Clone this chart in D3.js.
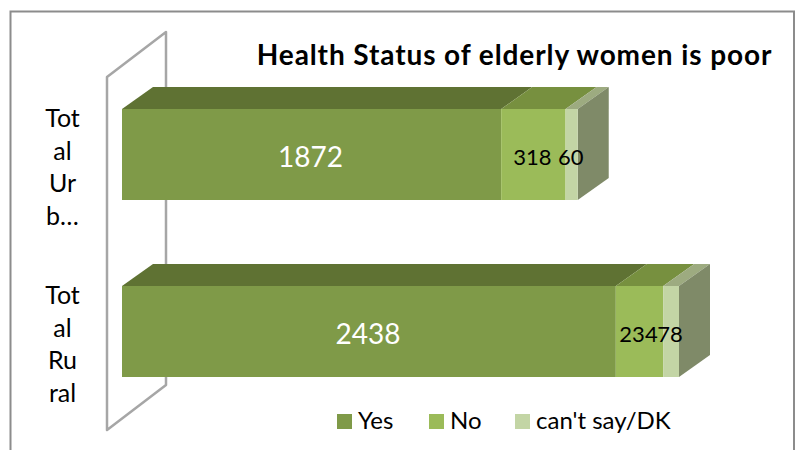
<!DOCTYPE html>
<html><head><meta charset="utf-8">
<script src="https://cdn.jsdelivr.net/npm/d3@7"></script>
<style>html,body{margin:0;padding:0;background:#fff}svg{display:block}text{font-family:Lato,"Open Sans",sans-serif}</style>
</head><body><svg id="c" width="795" height="450"></svg>
<script>
const categories = ["Total Urban", "Total Rural"];
const categoryLines = [["Tot","al","Ur","b…"],["Tot","al","Ru","ral"]];
const seriesNames = ["Yes","No","can't say/DK"];
const yesValues = [1872, 2438];
const noValues = [318, 234];
const dkValues = [60, 78];
const titleText = "Health Status of elderly women is poor";

const front = ["#7f9a48","#9bbb59","#c3d5a5"];
const top_ = ["#5f7233","#77903f","#9dab80"];
const sideColor = "#7f8a68";
const dx = 31, dy = 22;
const svg = d3.select("#c");

svg.append("path").attr("d","M10.5,450V11.5H794V450").attr("fill","none").attr("stroke","#8c8c8c").attr("stroke-width",2);

const x = d3.scaleLinear().domain([0,2750]).range([122,679]);
const y = d3.scaleBand().domain(categories).range([109,377]).paddingInner(86/177).paddingOuter(0);
const barH = y.bandwidth();

svg.append("path").attr("d","M107,430V77L166,32V385Z").attr("fill","#fff").attr("stroke","#a6a6a6").attr("stroke-width",2.5).attr("stroke-linejoin","round");

const rows = categories.map((c,i)=>({c,i,vals:[yesValues[i],noValues[i],dkValues[i]]}));
rows.forEach(r=>{
  const g = svg.append("g");
  const Y = y(r.c), H = barH;
  const stack = d3.cumsum(r.vals);
  const segs = r.vals.map((v,k)=>({v,k,a:k?stack[k-1]:0,b:stack[k]}));
  g.selectAll("path.top").data(segs).join("path").attr("class","top")
    .attr("fill",d=>top_[d.k])
    .attr("d",d=>{const a=x(d.a),b=x(d.b);return `M${a},${Y}L${a+dx},${Y-dy}H${b+dx}L${b},${Y}Z`;});
  const end = x(stack[2]);
  g.append("path").attr("fill",sideColor).attr("d",`M${end},${Y}L${end+dx},${Y-dy}V${Y+H-dy}L${end},${Y+H}Z`);
  g.selectAll("rect").data(segs).join("rect")
    .attr("x",d=>x(d.a)).attr("y",Y).attr("width",d=>x(d.b)-x(d.a)).attr("height",H)
    .attr("fill",d=>front[d.k]);
  g.selectAll("text").data(segs).join("text")
    .attr("x",d=>(x(d.a)+x(d.b))/2-1).attr("y",Y+H/2+3)
    .attr("dy","0.35em").attr("text-anchor","middle")
    .attr("font-size",d=>d.k===0?28:22)
    .attr("fill",d=>d.k===0?"#fff":"#000")
    .text(d=>d.v);
  const t = svg.append("text").attr("text-anchor","middle").attr("font-size",25).attr("fill","#000");
  const firstBaseline = Y + 18;
  t.selectAll("tspan").data(categoryLines[r.i]).join("tspan")
    .attr("x",62.5).attr("y",(d,j)=>firstBaseline+j*32.7).text(d=>d);
});

svg.append("text").attr("x",514.5).attr("y",65).attr("text-anchor","middle").attr("font-size",28).attr("letter-spacing",0.9).attr("font-weight",700).attr("fill","#000").text(titleText);

const legendX = [337,429,515];
const lg = svg.append("g");
seriesNames.forEach((s,i)=>{
  lg.append("rect").attr("x",legendX[i]).attr("y",414).attr("width",15).attr("height",15).attr("fill",front[i]);
  lg.append("text").attr("x",legendX[i]+21).attr("y",428.5).attr("font-size",24).attr("fill","#000").text(s);
});
</script></body></html>
